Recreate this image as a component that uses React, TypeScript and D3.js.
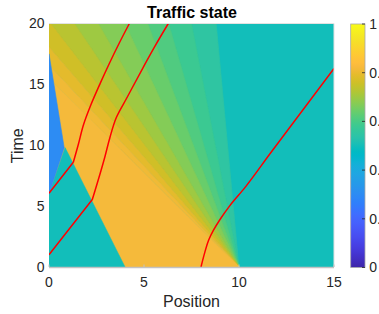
import React from "react";
import * as d3 from "d3";

const xTicks = [0, 5, 10, 15];
const yTicks = [0, 5, 10, 15, 20];
const cbTicks = [0, 0.2, 0.4, 0.6, 0.8, 1];

// densities of the constant states
const backgroundRho = 0.5;
const jamRho = 0.82;
const upstreamRho = 0.5;
const inflowRho = 0.3;

// regions, as (position, time) vertices
const jamPoly = [[4, 0], [10, 0], [0, 15.5], [0, 6]];
const upstreamPoly = [[0, 0], [4, 0], [0.85, 9.8], [0, 6]];
const inflowPoly = [[0, 6], [0.8, 9.8], [0, 17.5]];

// rarefaction fan from (10, 0): ray end points and the density of each band between them
const fanOrigin = [10, 0];
const fanRayEnds = [
  [8.8, 20], [7.5, 20], [6.3, 20], [5.2, 20], [4.0, 20], [2.6, 20],
  [1.35, 20], [0.1, 20], [0, 18.1], [0, 16.6], [0, 15.5],
];
const fanRho = [0.55, 0.58, 0.61, 0.64, 0.67, 0.7, 0.73, 0.76, 0.79, 0.81];

// vehicle trajectories (position, time); kink = index of the last sharp corner (shock crossing)
const trajA = [[0, 1], [2.28, 5.55], [2.95, 9.1], [3.2, 10.6], [3.55, 12.3], [4.1, 13.9], [4.96, 16.4], [5.6, 18.2], [6.28, 20]];
const trajB = [[0, 6.05], [1.28, 8.6], [1.55, 10.1], [1.8, 11.6], [2.2, 13.3], [2.7, 15.1], [3.2, 16.8], [3.7, 18.4], [4.23, 20]];
const trajC = [[8, 0], [8.2, 1.2], [8.4, 2.2], [8.65, 3.0], [9.0, 3.9], [9.5, 5.0], [10.3, 6.5], [11.63, 9.3], [15, 16.3]];
const trajectories = [trajA, trajB, trajC];
const trajKinks = [1, 1, 0];

const parulaHex = (
  "#3e26a8 #402ab4 #422ec0 #4332cb #4537d5 #463cde #4741e5 #4747eb #484df0 #4852f4 #4758f8 #465efb #4563fd #4269fe #3e6fff #3875fe " +
  "#327cfc #2f81fa #2e87f7 #2d8cf3 #2b91ef #2797eb #259be8 #23a0e5 #20a5e3 #1ca9df #18addb #12b1d6 #08b5d0 #01b8ca #02bac3 #0bbdbd " +
  "#19bfb6 #24c1ae #2cc4a7 #31c69f #37c897 #3fca8e #4acb84 #57cc7a #64cd6f #72cd64 #81cc59 #8fcb4e #9dc943 #abc739 #b9c431 #c5c22a " +
  "#d1bf27 #dcbd29 #e6bb2d #f0ba36 #f8ba3d #febe3c #fec338 #fec934 #fccf30 #fad62d #f7dc2a #f5e327 #f5e924 #f6ef20 #f7f51b #f9fb15"
).split(" ");
const parula = d3.piecewise(d3.interpolateRgb, parulaHex);

const W = 379;
const H = 314;
const font = "'Liberation Sans', Arial, Helvetica, sans-serif";
const ink = "#262626";

export default function App() {
  const x = d3.scaleLinear().domain([0, 15]).range([49, 334]);
  const y = d3.scaleLinear().domain([0, 20]).range([267, 23.5]);
  const cb = d3.scaleLinear().domain([0, 1]).range([267.5, 24]);

  const line = d3.line<number[]>().x(d => x(d[0])).y(d => y(d[1]));
  const smooth = d3.line<number[]>().x(d => x(d[0])).y(d => y(d[1])).curve(d3.curveMonotoneY);
  const poly = (pts: number[][]) => line(pts) + "Z";

  const fanBands = fanRho.map((rho, i) => {
    const a = fanRayEnds[i];
    const b = fanRayEnds[i + 1];
    const pts = [fanOrigin, a];
    if (a[1] === 20 && b[1] < 20) pts.push([0, 20]);
    pts.push(b);
    return { rho, pts };
  });

  const regions = [
    ...fanBands,
    { rho: jamRho, pts: jamPoly },
    { rho: upstreamRho, pts: upstreamPoly },
    { rho: inflowRho, pts: inflowPoly },
  ];

  return (
    <svg width={W} height={H} style={{ position: "absolute", left: 0, top: 0, background: "#fff" }} fontFamily={font}>
      <defs>
        <clipPath id="plot">
          <rect x={x(0)} y={y(20)} width={x(15) - x(0)} height={y(0) - y(20)} />
        </clipPath>
        <linearGradient id="cbar" x1="0" y1="1" x2="0" y2="0">
          {parulaHex.map((c, i) => (
            <stop key={i} offset={i / (parulaHex.length - 1)} stopColor={c} />
          ))}
        </linearGradient>
      </defs>

      <g clipPath="url(#plot)">
        <rect x={x(0)} y={y(20)} width={x(15) - x(0)} height={y(0) - y(20)} fill={parula(backgroundRho)} />
        {regions.map((r, i) => (
          <path key={i} d={poly(r.pts)} fill={parula(r.rho)} stroke={parula(r.rho)} strokeWidth={0.6} />
        ))}
        {trajectories.map((t, i) => {
          const k = trajKinks[i];
          const d = (k > 0 ? line(t.slice(0, k + 1)) : "") + (smooth(t.slice(k)) || "");
          return <path key={i} d={d} fill="none" stroke="#ff0000" strokeWidth={1.5} strokeLinejoin="round" />;
        })}
      </g>

      {/* axes box */}
      <line x1={x(0)} x2={x(15)} y1={y(20)} y2={y(20)} stroke="#e2e2e2" strokeWidth={1} />
      <line x1={x(15)} x2={x(15)} y1={y(20)} y2={y(0)} stroke="#e2e2e2" strokeWidth={1} />
      <line x1={x(0)} x2={x(15)} y1={y(0) + 0.5} y2={y(0) + 0.5} stroke="#c2c2c2" strokeWidth={1.5} />
      {xTicks.map(t => (
        <line key={t} x1={x(t)} x2={x(t)} y1={y(0)} y2={y(0) - 2.5} stroke="#c2c2c2" strokeWidth={1} />
      ))}

      {xTicks.map(t => (
        <text key={t} x={x(t)} y={287} textAnchor="middle" fontSize={14} fill={ink}>{t}</text>
      ))}
      {yTicks.map(t => (
        <text key={t} x={44.5} y={y(t)} dy="0.35em" textAnchor="end" fontSize={14} fill={ink}>{t}</text>
      ))}

      <text x={191.5} y={307} textAnchor="middle" fontSize={16} fill={ink}>Position</text>
      <text transform={`translate(22.5,${(y(0) + y(20)) / 2 + 0.5}) rotate(-90)`} textAnchor="middle" fontSize={16} fill={ink}>Time</text>
      <text x={192} y={18.3} textAnchor="middle" fontSize={16} fontWeight="bold" fill="#000">Traffic state</text>

      {/* colorbar */}
      <rect x={350.7} y={cb(1)} width={14.3} height={cb(0) - cb(1)} fill="url(#cbar)" stroke="#a8a8a8" strokeWidth={0.8} />
      {cbTicks.map(t => (
        <g key={t}>
          <line x1={365} x2={362} y1={cb(t)} y2={cb(t)} stroke={ink} strokeWidth={0.8} />
          <text x={369.3} y={cb(t)} dy="0.35em" fontSize={14} fill={ink}>{t}</text>
        </g>
      ))}
    </svg>
  );
}
